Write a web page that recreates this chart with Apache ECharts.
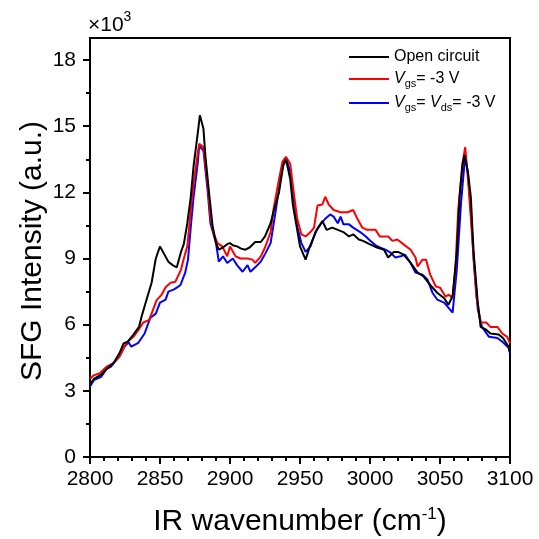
<!DOCTYPE html>
<html>
<head>
<meta charset="utf-8">
<script src="https://cdn.jsdelivr.net/npm/echarts@6/dist/echarts.min.js"></script>
<style>html,body{margin:0;padding:0;background:#fff;}#c{width:539px;height:539px;}</style>
</head>
<body>
<div id="c"></div>
<script>
// Data (intensity in units of 10^3)
const seriesNames = ['Open circuit', 'Vgs = -3 V', 'Vgs = Vds = -3 V'];
const xTicks = [2800, 2850, 2900, 2950, 3000, 3050, 3100];
const yTicks = [0, 3, 6, 9, 12, 15, 18];
const yMinorTicks = [1.5, 4.5, 7.5, 10.5, 13.5, 16.5];

const openX = [2800,2803,2808,2812,2817,2821,2824,2827,2831,2835,2837,2840,2844,2847,2850,2853,2856,2859,2862,2865,2867,2869.5,2872,2874,2877,2878.5,2881,2882.5,2885,2887.5,2890,2892,2895,2898,2900,2902,2905,2908,2911,2914,2918,2922,2925,2929,2931,2935,2938,2940,2943,2945,2948,2950,2954,2957,2962,2966,2969,2973,2977,2981,2985,2988,2992,2995,3000,3005,3010,3013,3017,3020,3024,3029,3034,3038,3043,3048,3053,3056,3059,3062,3064,3066,3067.5,3070,3072,3074,3077,3079,3083,3086,3092,3095,3099,3100];
const openY = [3.3,3.55,3.73,4.0,4.27,4.7,5.15,5.23,5.55,5.9,6.4,7.05,7.9,9.0,9.55,9.2,8.85,8.7,8.6,9.3,9.65,10.6,11.8,13.2,14.7,15.5,14.9,13.6,12.0,10.5,9.7,9.4,9.5,9.65,9.7,9.6,9.55,9.45,9.4,9.5,9.75,9.75,10.0,10.6,11.1,12.0,13.2,13.5,12.6,11.4,10.3,9.55,8.95,9.55,10.3,10.7,10.3,10.4,10.3,10.2,10.0,10.1,9.86,9.8,9.64,9.5,9.4,9.05,9.3,9.3,9.18,8.8,8.36,8.2,7.8,7.45,7.2,6.9,7.3,9.3,11.8,13.2,13.7,12.9,11.8,9.3,7.0,5.9,5.77,5.6,5.55,5.4,5.0,4.75];

const vgsX = [2800,2802.5,2807,2812,2817,2821,2826,2831,2835,2838,2842,2844,2847.5,2851,2854,2857.5,2861,2865,2867,2869.5,2872,2874,2877,2878,2881,2884,2886,2888,2891,2894.5,2898,2900,2904,2907.5,2912.5,2916,2918,2922,2925,2929,2931,2935,2937.5,2940,2943,2945.5,2948,2951,2954,2957.5,2960,2962.5,2966,2968,2970.5,2974,2979,2984,2988,2991,2994.5,2998,3004,3007,3010,3013,3016,3019.5,3024,3029,3032.5,3034,3037.5,3040,3043,3047,3050,3054,3056,3059,3061,3063,3066,3068,3070,3073,3076,3079,3083,3086,3091,3094.5,3098,3100];
const vgsY = [3.55,3.7,3.8,4.1,4.27,4.55,5.18,5.45,5.8,6.1,6.2,6.5,7.1,7.35,7.7,7.9,7.95,8.5,9.0,9.55,11.2,12.4,13.8,14.2,14.05,12.4,10.9,10.2,9.7,9.55,9.1,9.55,9.1,9.0,9.0,8.95,8.8,9.1,9.5,10.2,11.2,12.6,13.4,13.6,13.3,12.0,10.8,10.1,10.0,10.2,10.4,11.4,11.45,11.8,11.45,11.2,11.1,11.1,11.2,10.8,10.4,10.3,10.3,10.0,10.0,10.0,9.8,9.86,9.64,9.4,9.05,8.64,8.95,8.95,8.27,7.73,7.68,7.27,7.36,7.23,8.5,11.2,13.3,14.05,12.6,10.0,7.27,6.1,6.1,5.9,5.9,5.6,5.45,5.15];

const vgsdsX = [2800,2803,2808,2812,2815,2817.5,2821,2824.5,2827.5,2829.5,2834.5,2839,2843,2847,2850,2854,2856,2860,2862,2864.6,2868,2870,2872,2874,2877,2878,2881,2884,2886,2890,2892,2895,2898,2902,2905,2909,2912.5,2914.6,2918,2922,2925,2929,2932.5,2936,2938,2940,2943,2945.5,2948,2951,2954,2957.5,2961,2964.6,2968,2971.6,2974,2977,2979,2981,2985,2988,2993,2997,3000,3004,3007,3011,3014.6,3018,3022,3025,3029,3032.5,3037.5,3041,3044.6,3048,3053,3056,3059,3062,3065,3068,3070,3072,3074,3077,3080,3085,3091,3095,3099,3100];
const vgsdsY = [3.2,3.5,3.64,4.0,4.1,4.3,4.55,5.0,5.2,5.0,5.18,5.6,6.3,6.5,7.0,7.14,7.5,7.6,7.68,7.8,8.36,8.95,10.45,11.8,13.36,14.1,13.9,12.1,10.6,9.7,8.86,9.1,8.8,9.0,8.7,8.4,8.7,8.4,8.6,8.86,9.2,9.7,11.1,12.6,13.36,13.6,12.9,11.7,10.45,9.7,9.3,9.55,10.2,10.55,10.8,11.0,10.9,10.6,10.9,10.55,10.55,10.4,10.2,10.0,9.82,9.6,9.5,9.4,9.27,9.05,9.1,9.18,8.8,8.36,8.27,8.05,7.45,7.14,7.0,6.77,6.55,8.5,11.5,13.7,12.8,11.2,8.95,6.7,5.9,5.45,5.4,5.2,4.95,4.7];

const colors = ['#000000', '#ff0000', '#0000ff'];
const FONT = '"Liberation Sans", Arial, Helvetica, sans-serif';

function zip(xs, ys) { return xs.map((x, i) => [x, ys[i]]); }
const seriesData = [zip(openX, openY), zip(vgsX, vgsY), zip(vgsdsX, vgsdsY)];

const legendRich = {
  n: { fontFamily: FONT, fontSize: 16, color: '#000', lineHeight: 20 },
  v: { fontFamily: FONT, fontSize: 16, fontStyle: 'italic', color: '#000', lineHeight: 20 },
  s: { fontFamily: FONT, fontSize: 11, color: '#000', padding: [9, 0, 0, 0] }
};
const legendLabels = {
  'Open circuit': '{n|Open circuit}',
  'Vgs = -3 V': '{v|V}{s|gs}{n|= -3 V}',
  'Vgs = Vds = -3 V': '{v|V}{s|gs}{n|= }{v|V}{s|ds}{n|= -3 V}'
};

const chart = echarts.init(document.getElementById('c'), null, { renderer: 'canvas' });
chart.setOption({
  animation: false,
  backgroundColor: '#fff',
  grid: { left: 90, right: 29, top: 38, bottom: 82, show: true, borderColor: '#000', borderWidth: 2, backgroundColor: 'transparent' },
  legend: {
    data: seriesNames,
    orient: 'vertical',
    left: 349, top: 49, padding: 0,
    itemWidth: 40, itemHeight: 2, itemGap: 6,
    icon: 'rect',
    formatter: name => legendLabels[name],
    textStyle: { rich: legendRich }
  },
  xAxis: {
    type: 'value', min: 2800, max: 3100, interval: 50,
    axisLine: { lineStyle: { color: '#000', width: 2 } },
    axisTick: { length: 7, lineStyle: { color: '#000', width: 2 }, customValues: xTicks },
    minorTick: { show: true, splitNumber: 5, length: 4, lineStyle: { color: '#000', width: 2 } },
    axisLabel: { customValues: xTicks, formatter: v => String(v), color: '#000', fontSize: 21, fontFamily: FONT, margin: 12 },
    splitLine: { show: false }
  },
  yAxis: [{
    type: 'value', min: 0, max: 19, interval: 3,
    axisLine: { lineStyle: { color: '#000', width: 2 } },
    axisTick: { length: 7, lineStyle: { color: '#000', width: 2 }, customValues: yTicks },
    axisLabel: { customValues: yTicks, formatter: v => String(v), color: '#000', fontSize: 21, fontFamily: FONT, margin: 14 },
    splitLine: { show: false }
  }, {
    type: 'value', min: 0, max: 19, position: 'left',
    axisLine: { show: false },
    axisTick: { show: true, length: 4, lineStyle: { color: '#000', width: 2 }, customValues: yMinorTicks },
    axisLabel: { show: false },
    splitLine: { show: false }
  }],
  series: seriesNames.map((name, i) => ({
    name: name,
    type: 'line',
    data: seriesData[i],
    yAxisIndex: 0,
    showSymbol: false,
    symbol: 'none',
    lineStyle: { color: colors[i], width: 2 },
    itemStyle: { color: colors[i] },
    z: 3 - i
  })),
  graphic: [
    {
      type: 'text', left: 88, top: 10,
      style: {
        text: '{m|×10}{p|3}',
        rich: {
          m: { fontFamily: FONT, fontSize: 21, fill: '#000', color: '#000', padding: [6, 0, 0, 0] },
          p: { fontFamily: FONT, fontSize: 14, fill: '#000', color: '#000', padding: [0, 0, 10, 0] }
        }
      }
    },
    {
      type: 'text', x: 33, y: 251, rotation: Math.PI / 2,
      style: {
        text: 'SFG Intensity (a.u.)',
        font: '30px ' + FONT, fill: '#000',
        align: 'center', verticalAlign: 'middle'
      }
    },
    {
      type: 'text', x: 300, y: 522,
      style: {
        text: '{t|IR wavenumber (cm}{p|-1}{t|)}',
        align: 'center', verticalAlign: 'middle',
        rich: {
          t: { fontFamily: FONT, fontSize: 30, fill: '#000', color: '#000' },
          p: { fontFamily: FONT, fontSize: 17, fill: '#000', color: '#000', padding: [0, 0, 15, 0] }
        }
      }
    }
  ]
});
</script>
</body>
</html>
